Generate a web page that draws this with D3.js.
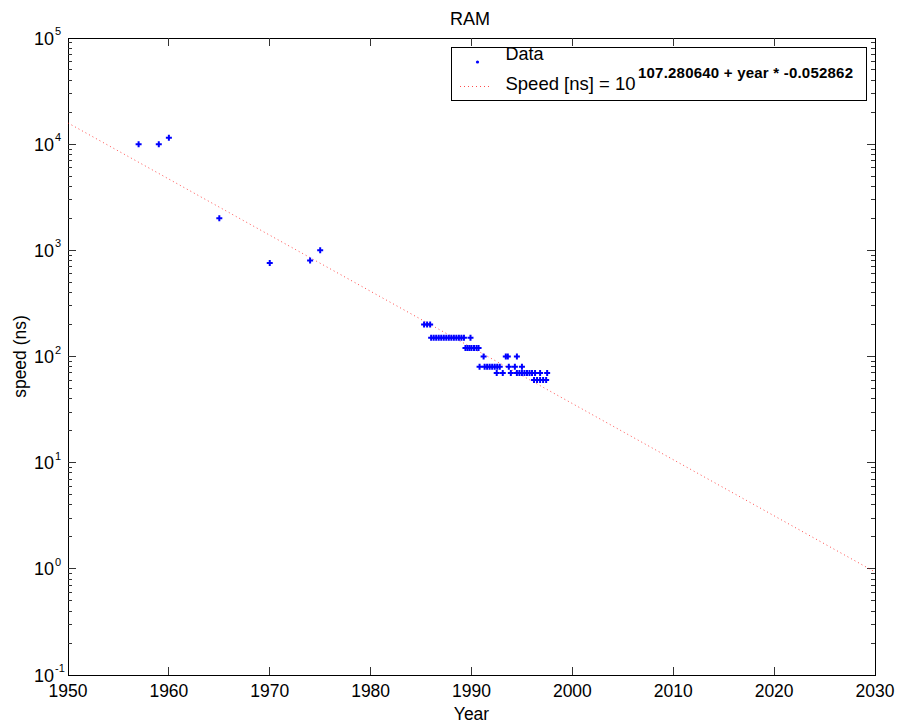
<!DOCTYPE html>
<html>
<head>
<meta charset="utf-8">
<script src="https://cdn.jsdelivr.net/npm/d3@7"></script>
<style>
  body { margin: 0; background: #fff; }
  text { font-family: "Liberation Sans", Arial, sans-serif; fill: #000; }
</style>
</head>
<body>
<div id="chart"></div>
<script>
// measured points (year, access time in ns)
const years = [
  1957, 1959, 1960, 1965, 1970, 1974, 1975,
  1985.3, 1985.6, 1985.9,
  1986.0, 1986.25, 1986.5, 1986.75, 1987.0, 1987.25, 1987.5, 1987.75,
  1988.0, 1988.25, 1988.5, 1988.75, 1989.0, 1989.25, 1989.9,
  1989.4, 1989.6, 1989.8, 1990.0, 1990.25, 1990.5, 1990.7,
  1991.2, 1993.4, 1993.6, 1994.5,
  1990.8, 1991.3, 1991.55, 1991.8, 1992.05, 1992.3, 1992.55, 1992.8, 1993.7, 1994.3, 1995.0,
  1992.5, 1993.1, 1993.9, 1994.5, 1994.75, 1995.0, 1995.25, 1995.5, 1995.75, 1996.0, 1996.3, 1996.8, 1997.5,
  1996.2, 1996.5, 1996.8, 1997.1, 1997.4
];
const speeds = [
  10000, 10000, 11500, 2000, 760, 800, 1000,
  200, 200, 200,
  150, 150, 150, 150, 150, 150, 150, 150,
  150, 150, 150, 150, 150, 150, 150,
  120, 120, 120, 120, 120, 120, 120,
  100, 100, 100, 100,
  80, 80, 80, 80, 80, 80, 80, 80, 80, 80, 80,
  70, 70, 70, 70, 70, 70, 70, 70, 70, 70, 70, 70, 70,
  60, 60, 60, 60, 60
];

// fitted line: log10(speed) = a + year * b
const fitA = 107.280640;
const fitB = -0.052862;

const xTicks = [1950, 1960, 1970, 1980, 1990, 2000, 2010, 2020, 2030];
const yExponents = [-1, 0, 1, 2, 3, 4, 5];

const width = 899, height = 728;
const margin = { top: 38, right: 24, bottom: 53, left: 68 };
const plotW = width - margin.left - margin.right;
const plotH = height - margin.top - margin.bottom;

const svg = d3.select('#chart').append('svg')
  .attr('width', width)
  .attr('height', height);

const x = d3.scaleLinear().domain([1950, 2030]).range([margin.left, margin.left + plotW]);
const y = d3.scaleLog().domain([0.1, 1e5]).range([margin.top + plotH, margin.top]);

// frame
svg.append('rect')
  .attr('x', margin.left)
  .attr('y', margin.top)
  .attr('width', plotW)
  .attr('height', plotH)
  .attr('fill', '#fff')
  .attr('stroke', '#000')
  .attr('stroke-width', 1)
  .attr('shape-rendering', 'crispEdges');

// ticks, drawn inward on all four sides
const tickG = svg.append('g')
  .attr('stroke', '#333')
  .attr('shape-rendering', 'crispEdges');

xTicks.slice(1, -1).forEach(t => {
  tickG.append('line').attr('x1', x(t)).attr('x2', x(t))
    .attr('y1', margin.top + plotH).attr('y2', margin.top + plotH - 8);
  tickG.append('line').attr('x1', x(t)).attr('x2', x(t))
    .attr('y1', margin.top).attr('y2', margin.top + 8);
});

const yMinor = [];
for (let e = -1; e < 5; e++) {
  for (let m = 2; m <= 9; m++) yMinor.push(m * Math.pow(10, e));
}
yMinor.forEach(v => {
  tickG.append('line').attr('x1', margin.left).attr('x2', margin.left + 4)
    .attr('y1', y(v)).attr('y2', y(v));
  tickG.append('line').attr('x1', margin.left + plotW).attr('x2', margin.left + plotW - 4)
    .attr('y1', y(v)).attr('y2', y(v));
});
yExponents.slice(1, -1).forEach(e => {
  const v = Math.pow(10, e);
  tickG.append('line').attr('x1', margin.left).attr('x2', margin.left + 8)
    .attr('y1', y(v)).attr('y2', y(v));
  tickG.append('line').attr('x1', margin.left + plotW).attr('x2', margin.left + plotW - 8)
    .attr('y1', y(v)).attr('y2', y(v));
});

// tick labels
svg.append('g').selectAll('text')
  .data(xTicks)
  .join('text')
  .attr('x', d => x(d))
  .attr('y', margin.top + plotH + 22)
  .attr('text-anchor', 'middle')
  .attr('font-size', '17.5px')
  .text(d => d);

const yLab = svg.append('g').selectAll('g')
  .data(yExponents)
  .join('g')
  .attr('transform', d => `translate(${margin.left - 14}, ${y(Math.pow(10, d))})`);
yLab.append('text')
  .attr('x', 0)
  .attr('y', 6.5)
  .attr('text-anchor', 'end')
  .attr('font-size', '18px')
  .text('10');
yLab.append('text')
  .attr('x', 1)
  .attr('y', -3)
  .attr('font-size', '11px')
  .text(d => d);

// titles
svg.append('text')
  .attr('x', 470)
  .attr('y', 25)
  .attr('text-anchor', 'middle')
  .attr('font-size', '18px')
  .text('RAM');

svg.append('text')
  .attr('x', margin.left + plotW / 2)
  .attr('y', 720)
  .attr('text-anchor', 'middle')
  .attr('font-size', '17.5px')
  .text('Year');

svg.append('text')
  .attr('transform', `translate(26, ${margin.top + plotH / 2}) rotate(-90)`)
  .attr('text-anchor', 'middle')
  .attr('font-size', '17.5px')
  .text('speed (ns)');

// fit line
const fitYears = [1950, 2030];
svg.append('path')
  .datum(fitYears)
  .attr('fill', 'none')
  .attr('stroke', '#f00')
  .attr('stroke-opacity', 0.7)
  .attr('stroke-width', 1)
  .attr('stroke-dasharray', '1,3')
  .attr('d', d3.line()
    .x(d => x(d))
    .y(d => y(Math.pow(10, fitA + d * fitB))));

// data points
const points = years.map((yr, i) => ({ year: yr, speed: speeds[i] }));
svg.append('g').selectAll('path')
  .data(points)
  .join('path')
  .attr('transform', d => `translate(${x(d.year)}, ${y(d.speed)})`)
  .attr('d', d3.symbol(d3.symbolCross).size(20))
  .attr('fill', '#00f');

// legend
const lg = svg.append('g');
lg.append('rect')
  .attr('x', 451.5).attr('y', 47.5)
  .attr('width', 415).attr('height', 53)
  .attr('fill', '#fff')
  .attr('stroke', '#000')
  .attr('shape-rendering', 'crispEdges');
lg.append('circle')
  .attr('cx', 477.5).attr('cy', 62)
  .attr('r', 1.6)
  .attr('fill', '#00f');
lg.append('text')
  .attr('x', 505.5).attr('y', 60)
  .attr('font-size', '18px')
  .text('Data');
lg.append('line')
  .attr('x1', 460).attr('x2', 492)
  .attr('y1', 86.5).attr('y2', 86.5)
  .attr('stroke', '#f00')
  .attr('stroke-opacity', 0.7)
  .attr('stroke-dasharray', '1,3');
lg.append('text')
  .attr('x', 505.5).attr('y', 90)
  .attr('font-size', '18.5px')
  .attr('textLength', 130)
  .attr('lengthAdjust', 'spacing')
  .text('Speed [ns] = 10');
lg.append('text')
  .attr('x', 638).attr('y', 77.5)
  .attr('font-size', '15px')
  .attr('font-weight', 'bold')
  .attr('textLength', 215)
  .attr('lengthAdjust', 'spacing')
  .text(`${fitA.toFixed(6)} + year * ${fitB.toFixed(6)}`);
</script>
</body>
</html>
